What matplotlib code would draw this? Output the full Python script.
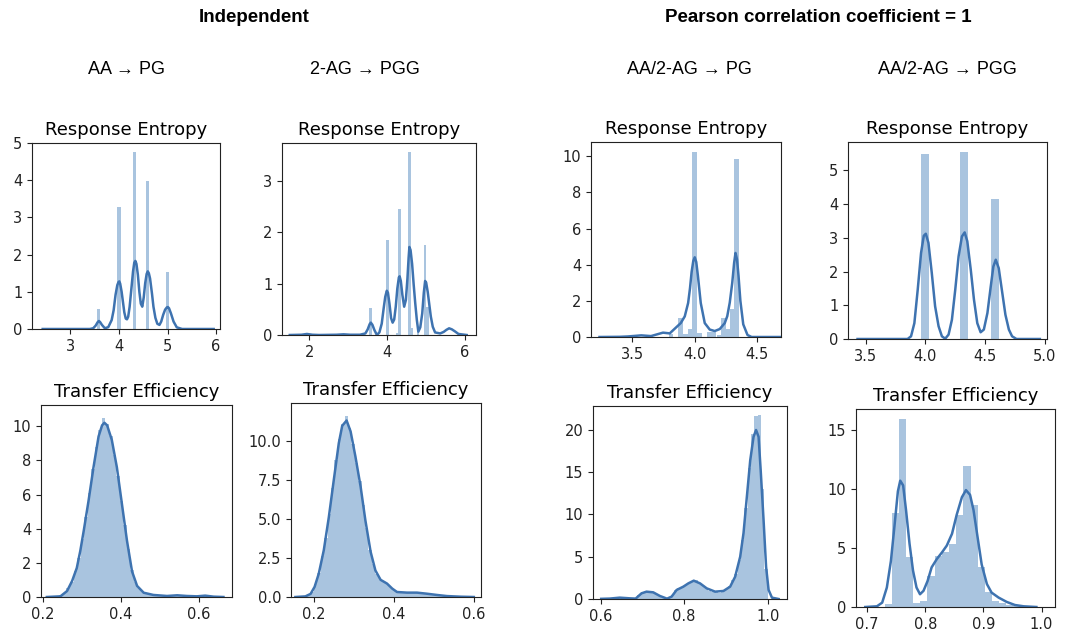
import numpy as np
import matplotlib
matplotlib.use("Agg")
import matplotlib.pyplot as plt

plt.rcParams["font.family"] = ["DejaVu Sans"]

LINE = "#3e73b0"
BAR = "#a9c4df"

# ---- Response Entropy (top row) ----
# AA -> PG
re1_bar_x = [3.58, 4.0, 4.32, 4.585, 5.0]
re1_bar_h = [0.53, 3.28, 4.76, 3.99, 1.53]
re1_kde_x = [2.43, 3.40, 3.47, 3.52, 3.56, 3.586, 3.61, 3.65, 3.71, 3.78,
             3.85, 3.89, 3.93, 3.966, 3.99, 4.007, 4.025, 4.055, 4.08, 4.11,
             4.14, 4.165, 4.19, 4.22, 4.26, 4.29, 4.315, 4.338, 4.36, 4.39,
             4.42, 4.45, 4.48, 4.51, 4.54, 4.57, 4.593, 4.615, 4.64, 4.68,
             4.71, 4.75, 4.79, 4.834, 4.87, 4.91, 4.95, 4.985, 5.007, 5.03,
             5.07, 5.124, 5.19, 5.30, 5.95]
re1_kde_y = [0, 0, 0.02, 0.09, 0.18, 0.215, 0.19, 0.11, 0.02, 0.05,
             0.24, 0.5, 0.92, 1.18, 1.26, 1.28, 1.22, 1.0, 0.75, 0.45,
             0.28, 0.26, 0.33, 0.6, 1.14, 1.55, 1.78, 1.83, 1.75, 1.45,
             1.0, 0.68, 0.6, 0.85, 1.23, 1.48, 1.55, 1.5, 1.36, 0.95,
             0.6, 0.3, 0.14, 0.11, 0.2, 0.38, 0.52, 0.58, 0.59, 0.56,
             0.42, 0.2, 0.045, 0, 0]

# 2-AG -> PGG
re2_bar_x = [3.58, 4.0, 4.25, 4.32, 4.57, 4.64, 4.79, 4.97, 5.04]
re2_bar_h = [0.52, 1.85, 0.04, 2.45, 3.55, 0.13, 0.1, 1.74, 0.55]
re2_kde_x = [1.50, 1.80, 1.94, 2.08, 2.25, 2.70, 2.88, 3.05, 3.30, 3.44,
             3.50, 3.55, 3.58, 3.62, 3.67, 3.735, 3.80, 3.86, 3.91, 3.95,
             3.99, 4.02, 4.06, 4.10, 4.14, 4.18, 4.22, 4.26, 4.30, 4.32,
             4.35, 4.39, 4.436, 4.48, 4.52, 4.55, 4.57, 4.60, 4.64, 4.68,
             4.72, 4.76, 4.80, 4.85, 4.90, 4.94, 4.974, 5.00, 5.04, 5.08,
             5.12, 5.17, 5.23, 5.36, 5.45, 5.52, 5.59, 5.66, 5.74, 5.83,
             6.04]
re2_kde_y = [0, 0.005, 0.02, 0.005, 0, 0.005, 0.013, 0.005, 0.005, 0.03,
             0.11, 0.21, 0.24, 0.2, 0.1, 0.0, 0.05, 0.22, 0.52, 0.74,
             0.86, 0.82, 0.6, 0.33, 0.24, 0.3, 0.55, 0.9, 1.12, 1.14,
             1.05, 0.78, 0.55, 0.68, 1.1, 1.5, 1.71, 1.65, 1.38, 0.98,
             0.62, 0.3, 0.065, 0.15, 0.42, 0.82, 1.05, 1.02, 0.84, 0.6,
             0.36, 0.16, 0.05, 0.03, 0.06, 0.1, 0.13, 0.11, 0.07, 0.02,
             0]

# AA/2-AG -> PG
re3_bar_x = [3.81, 3.885, 3.925, 3.962, 4.0, 4.04, 4.115, 4.155, 4.195,
             4.232, 4.27, 4.30, 4.335]
re3_bar_h = [0.15, 1.05, 0.15, 0.44, 10.25, 0.22, 0.3, 0.3, 0.1,
             1.05, 0.44, 1.57, 9.85]
re3_kde_x = [3.238, 3.40, 3.465, 3.52, 3.572, 3.65, 3.70, 3.746, 3.80, 3.84,
             3.888, 3.92, 3.947, 3.962, 3.975, 3.988, 4.0, 4.012, 4.025, 4.048,
             4.08, 4.12, 4.16, 4.20, 4.24, 4.26, 4.28, 4.30, 4.315, 4.326,
             4.338, 4.35, 4.365, 4.388, 4.422, 4.455, 4.68]
re3_kde_y = [0, 0.01, 0.03, 0.06, 0.09, 0.05, 0.15, 0.24, 0.2, 0.46,
             0.77, 1.14, 1.88, 2.7, 3.6, 4.2, 4.41, 4.15, 3.4, 1.88,
             0.77, 0.41, 0.33, 0.44, 0.77, 1.15, 1.9, 3.0, 4.1, 4.65,
             4.3, 3.4, 2.0, 0.7, 0.11, 0, 0]

# AA/2-AG -> PGG
re4_bar_x = [3.995, 4.325, 4.585]
re4_bar_h = [5.47, 5.55, 4.15]
re4_kde_x = [3.43, 3.85, 3.879, 3.907, 3.935, 3.963, 3.986, 4.003, 4.025, 4.053,
             4.081, 4.11, 4.138, 4.166, 4.194, 4.222, 4.25, 4.278, 4.306, 4.329,
             4.351, 4.38, 4.407, 4.435, 4.463, 4.49, 4.52, 4.548, 4.57, 4.59,
             4.615, 4.643, 4.671, 4.70, 4.727, 4.764, 4.96]
re4_kde_y = [0, 0, 0.08, 0.47, 1.46, 2.55, 3.06, 3.12, 2.85, 1.96,
             0.97, 0.38, 0.08, 0.01, 0.13, 0.57, 1.46, 2.45, 3.04, 3.16,
             2.9, 2.06, 1.17, 0.47, 0.2, 0.28, 0.77, 1.56, 2.15, 2.35,
             2.1, 1.41, 0.72, 0.28, 0.08, 0, 0]

# ---- Transfer Efficiency (bottom row) ----
te1_start, te1_width = 0.215, 0.0091
te1_hist = [0.02, 0.03, 0.05, 0.1, 0.25, 0.5, 0.9, 1.5, 2.3, 3.4,
            4.7, 6.1, 7.5, 8.8, 9.8, 10.5, 10.1, 9.4, 8.3, 7.1,
            5.6, 4.2, 2.8, 1.6, 0.9, 0.5, 0.3, 0.2, 0.15, 0.12,
            0.1, 0.08, 0.07, 0.07, 0.09, 0.1, 0.08, 0.06, 0.05, 0.05,
            0.04, 0.04, 0.05, 0.07, 0.06, 0.04, 0.03, 0.02, 0.02, 0.01]
te1_kde_x = [0.21, 0.245, 0.262, 0.275, 0.287, 0.296, 0.305, 0.317, 0.330, 0.343,
             0.352, 0.358, 0.365, 0.377, 0.390, 0.403, 0.416, 0.429, 0.442, 0.459,
             0.484, 0.519, 0.545, 0.570, 0.596, 0.617, 0.639, 0.664]
te1_kde_y = [0, 0.04, 0.35, 0.94, 1.7, 2.7, 3.9, 5.6, 7.6, 9.4,
             10.05, 10.2, 10.05, 9.2, 7.6, 5.45, 3.3, 1.5, 0.65, 0.25,
             0.12, 0.06, 0.1, 0.06, 0.04, 0.08, 0.02, 0]

te2_start, te2_width = 0.175, 0.0085
te2_hist = [0.04, 0.12, 0.35, 0.85, 1.55, 2.6, 3.8, 5.3, 7.0, 8.8,
            10.1, 11.1, 11.6, 10.8, 9.8, 8.6, 7.4, 5.9, 4.4, 3.0,
            2.1, 1.5, 1.1, 1.0, 0.85, 0.62, 0.42, 0.3, 0.28, 0.26,
            0.27, 0.3, 0.25, 0.28, 0.3, 0.25, 0.22, 0.2, 0.18, 0.14,
            0.12, 0.1, 0.07, 0.06, 0.05, 0.04, 0.03, 0.02, 0.02, 0.01]
te2_kde_x = [0.154, 0.179, 0.192, 0.202, 0.2125, 0.225, 0.2375, 0.25, 0.2625, 0.271,
             0.282, 0.292, 0.304, 0.317, 0.329, 0.342, 0.354, 0.367, 0.383, 0.396,
             0.408, 0.433, 0.458, 0.483, 0.508, 0.533, 0.567, 0.60]
te2_kde_y = [0, 0.04, 0.2, 0.65, 1.5, 3.0, 5.1, 7.5, 9.85, 10.96,
             11.3, 10.6, 9.0, 7.07, 4.9, 2.9, 1.7, 1.1, 0.86, 0.54,
             0.32, 0.28, 0.28, 0.21, 0.13, 0.06, 0.02, 0]

te3_start, te3_width = 0.6, 0.008
te3_hist = [0.02, 0.03, 0.05, 0.1, 0.15, 0.18, 0.12, 0.1, 0.08, 0.05,
            0.1, 0.5, 0.8, 0.85, 0.9, 0.75, 0.6, 0.35, 0.15, 0.08,
            0.15, 0.5, 1.1, 1.3, 1.4, 1.6, 1.9, 2.1, 2.2, 1.9,
            1.6, 1.3, 1.0, 0.85, 0.8, 0.75, 0.85, 1.2, 1.5, 2.3,
            3.0, 4.6, 7.0, 10.8, 15.5, 19.5, 21.6, 21.8, 13.0, 3.5]
te3_kde_x = [0.6016, 0.622, 0.646, 0.67, 0.684, 0.698, 0.71, 0.726, 0.742, 0.759,
             0.77, 0.782, 0.798, 0.81, 0.823, 0.838, 0.854, 0.874, 0.894, 0.91,
             0.922, 0.934, 0.942, 0.95, 0.958, 0.966, 0.972, 0.978, 0.983, 0.99,
             0.996, 1.002, 1.01, 1.026]
te3_kde_y = [0.02, 0.05, 0.16, 0.08, 0.05, 0.67, 0.87, 0.79, 0.36, 0.04,
             0.28, 1.07, 1.46, 1.85, 2.17, 1.85, 1.26, 0.87, 0.95, 1.46,
             2.64, 5.0, 7.8, 12.1, 16.4, 19.2, 20.0, 19.2, 15.3, 9.3,
             3.8, 1.07, 0.16, 0]

te4_start, te4_width = 0.730, 0.0123
te4_hist = [0.28, 7.97, 15.9, 4.27, 0.37, 0.51, 2.65, 4.36, 4.64, 5.36,
            7.78, 11.9, 8.6, 3.4, 1.3, 0.5, 0.3, 0.15, 0.05]
te4_kde_x = [0.697, 0.717, 0.726, 0.734, 0.741, 0.747, 0.753, 0.757, 0.762, 0.767,
             0.773, 0.779, 0.785, 0.791, 0.797, 0.804, 0.811, 0.82, 0.829, 0.837,
             0.846, 0.854, 0.863, 0.870, 0.877, 0.883, 0.890, 0.897, 0.906, 0.914,
             0.926, 0.94, 0.954, 0.969, 0.991]
te4_kde_y = [0, 0.06, 0.37, 1.65, 3.9, 6.8, 9.8, 10.7, 10.3, 8.2,
             5.36, 3.08, 1.65, 1.08, 1.37, 2.2, 3.36, 4.07, 4.64, 5.2,
             6.2, 7.8, 9.3, 9.9, 9.5, 8.2, 5.9, 3.6, 1.94, 1.22,
             0.8, 0.43, 0.17, 0.06, 0]

# tick labels per panel
xticks = [[3, 4, 5, 6], [2, 4, 6], [3.5, 4.0, 4.5], [3.5, 4.0, 4.5, 5.0],
          [0.2, 0.4, 0.6], [0.2, 0.4, 0.6], [0.6, 0.8, 1.0], [0.7, 0.8, 0.9, 1.0]]
yticks = [[0, 1, 2, 3, 4, 5], [0, 1, 2, 3], [0, 2, 4, 6, 8, 10], [0, 1, 2, 3, 4, 5],
          [0, 2, 4, 6, 8, 10], [0, 2.5, 5.0, 7.5, 10.0], [0, 5, 10, 15, 20], [0, 5, 10, 15]]
ytick_labels = [None, None, None, None, None,
                ["0.0", "2.5", "5.0", "7.5", "10.0"], None, None]
xlims = [(2.21, 6.08), (1.30, 6.28), (3.17, 4.69), (3.35, 5.02),
         (0.195, 0.686), (0.143, 0.618), (0.582, 1.046), (0.681, 1.023)]
ylims = [(0, 5.0), (0, 3.73), (0, 10.79), (0, 5.84),
         (0, 11.24), (0, 12.42), (0, 22.84), (0, 16.77)]

# axes boxes in pixels: left, top, right, bottom
W, H = 1068, 636
boxes = [(32, 143, 220, 329), (282, 143, 476, 335), (591, 142, 781, 337), (848, 142, 1047, 339),
         (41, 405, 232, 597), (291, 403, 481, 597), (593, 406, 787, 599), (856, 409, 1055, 607)]

fig = plt.figure(figsize=(W / 100, H / 100), dpi=100)

bars = [(re1_bar_x, re1_bar_h, 0.065), (re2_bar_x, re2_bar_h, 0.07),
        (re3_bar_x, re3_bar_h, 0.038), (re4_bar_x, re4_bar_h, 0.062)]
hists = [(te1_start, te1_width, te1_hist), (te2_start, te2_width, te2_hist),
         (te3_start, te3_width, te3_hist), (te4_start, te4_width, te4_hist)]
kdes = [(re1_kde_x, re1_kde_y), (re2_kde_x, re2_kde_y), (re3_kde_x, re3_kde_y),
        (re4_kde_x, re4_kde_y), (te1_kde_x, te1_kde_y), (te2_kde_x, te2_kde_y),
        (te3_kde_x, te3_kde_y), (te4_kde_x, te4_kde_y)]

for i, (l, t, r, b) in enumerate(boxes):
    ax = fig.add_axes([l / W, 1 - b / H, (r - l) / W, (b - t) / H])
    if i < 4:
        bx, bh, bw = bars[i]
        ax.bar(bx, bh, width=bw, color=BAR, linewidth=0)
        ax.set_title("Response Entropy", fontsize=13, pad=6)
    else:
        start, width, heights = hists[i - 4]
        lefts = start + width * np.arange(len(heights))
        ax.bar(lefts, heights, width=width * 1.02, align="edge", color=BAR,
               linewidth=0)
        ax.set_title("Transfer Efficiency", fontsize=13, pad=6)
    kx, ky = kdes[i]
    ax.plot(kx, ky, color=LINE, linewidth=1.8, solid_joinstyle="round")
    ax.set_xlim(*xlims[i])
    ax.set_ylim(*ylims[i])
    ax.set_xticks(xticks[i])
    ax.set_yticks(yticks[i])
    if ytick_labels[i] is not None:
        ax.set_yticklabels(ytick_labels[i])
    ax.tick_params(labelsize=10.5, length=3.5, width=0.8, colors="#222222")
    for sp in ax.spines.values():
        sp.set_color("#222222")
        sp.set_linewidth(0.8)

head = ["Liberation Sans", "DejaVu Sans"]
fig.text(254 / W, 1 - 17 / H, "Independent", ha="center", va="center",
         fontsize=13.5, fontweight="bold", family=head)
fig.text(818 / W, 1 - 17 / H, "Pearson correlation coefficient = 1", ha="center",
         va="center", fontsize=13.5, fontweight="bold", family=head)
subs = [("AA \u2192 PG", 126), ("2-AG \u2192 PGG", 365),
        ("AA/2-AG \u2192 PG", 689), ("AA/2-AG \u2192 PGG", 947)]
for txt, cx in subs:
    fig.text(cx / W, 1 - 69 / H, txt, ha="center", va="center",
             fontsize=13, family=head)

fig.savefig("out.png", dpi=100)
